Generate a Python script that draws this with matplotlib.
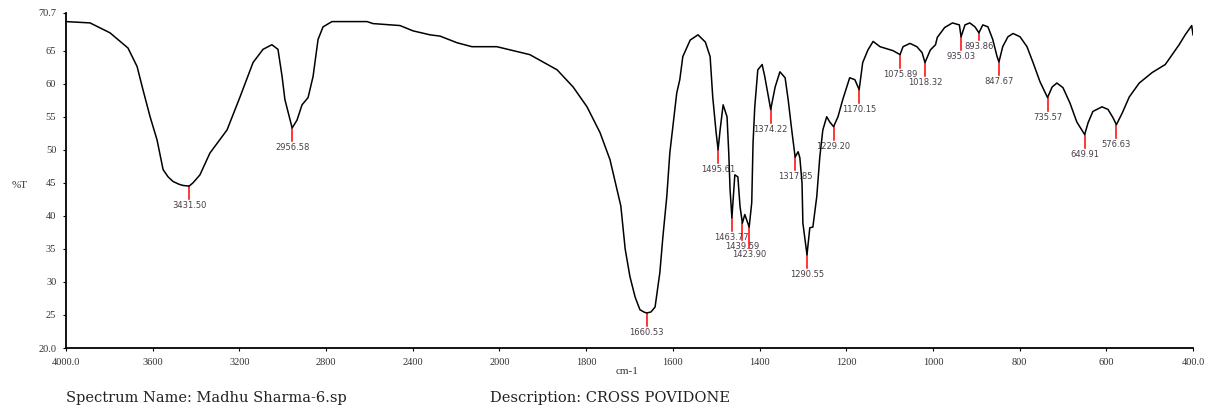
import numpy as np
import matplotlib.pyplot as plt

plt.rcParams['font.family'] = ['Liberation Serif', 'DejaVu Serif']

# IR spectrum, cm-1 vs %T
wavenumber = [
    4000, 3889, 3797, 3714, 3672, 3645, 3612, 3580, 3552, 3529, 3506, 3480, 3460,
    3431.5, 3414, 3382, 3336, 3257, 3197, 3137, 3091, 3050, 3022, 3003, 2990,
    2956.58, 2934, 2911, 2883, 2860, 2837, 2814, 2773, 2611, 2584, 2459, 2399,
    2321, 2274, 2196, 2127, 2012, 1930, 1867, 1830, 1798, 1768, 1745, 1727,
    1720, 1710, 1699, 1687, 1676, 1667, 1660.53, 1650.5, 1641, 1630, 1623, 1614,
    1607, 1591, 1584, 1577, 1560, 1542, 1525, 1514, 1508, 1500, 1495.61, 1491,
    1484, 1475, 1471, 1468, 1463.77, 1457, 1450, 1445, 1439.59, 1434, 1423.9,
    1418, 1415, 1411, 1404, 1394, 1388, 1374.22, 1364, 1353, 1341, 1334, 1325,
    1317.85, 1311, 1307, 1302, 1300, 1290.55, 1284, 1277, 1268, 1261, 1254,
    1245, 1238, 1229.2, 1219, 1208, 1192, 1180, 1170.15, 1162, 1150, 1138, 1122,
    1092, 1075.89, 1069, 1053, 1037, 1025, 1018.32, 1006, 994, 990, 973, 955,
    939, 935.03, 926, 915, 903, 893.86, 885, 873, 862, 852, 847.67, 839, 827,
    815, 799, 783, 769, 753, 735.57, 725, 714, 700, 684, 668, 649.91, 642, 631,
    610, 596, 585, 576.63, 563, 547, 524, 494, 464, 432, 418, 403, 400,
]
transmittance = [
    69.4, 69.2, 67.7, 65.4, 62.6, 59.1, 55.0, 51.5, 47.0, 45.9, 45.2, 44.8, 44.6,
    44.5, 45.0, 46.2, 49.5, 53.0, 58.0, 63.2, 65.2, 65.9, 65.2, 61.1, 57.6,
    53.3, 54.5, 56.8, 57.9, 61.1, 66.7, 68.6, 69.4, 69.4, 69.1, 68.8, 68.0,
    67.4, 67.2, 66.2, 65.6, 65.6, 64.4, 62.1, 59.5, 56.5, 52.6, 48.5, 43.5,
    41.5, 35.0, 30.8, 27.7, 25.8, 25.45, 25.3, 25.45, 26.2, 31.4, 36.8, 42.9,
    49.5, 58.6, 60.6, 64.1, 66.6, 67.4, 66.3, 64.1, 58.0, 52.5, 50.0, 53.0,
    56.8, 55.0, 49.5, 44.0, 39.7, 46.2, 45.9, 41.4, 38.9, 40.2, 38.3,
    42.0, 51.0, 56.5, 62.1, 62.9, 61.1, 56.1, 59.5, 61.8, 60.9, 57.6, 52.6,
    48.9, 49.7, 48.8, 45.0, 38.9, 34.1, 38.2, 38.3, 42.9, 48.9, 53.0,
    55.0, 54.2, 53.5, 55.0, 57.6, 60.9, 60.6, 59.1, 63.2, 65.1, 66.4, 65.6,
    65.0, 64.4, 65.6, 66.1, 65.6, 64.7, 63.2, 65.1, 65.9, 67.0, 68.5, 69.2,
    68.9, 67.1, 68.9, 69.2, 68.6, 67.7, 68.9, 68.6, 66.7, 64.1, 63.3, 65.6, 67.1,
    67.6, 67.1, 65.6, 63.2, 60.3, 57.9, 59.5, 60.1, 59.4, 57.1, 54.2, 52.3, 54.1, 55.8,
    56.5, 56.1, 54.9, 53.8, 55.6, 58.0, 60.1, 61.7, 62.9, 65.9, 67.4, 68.8, 67.4,
]

peak_wn = [3431.50, 2956.58, 1660.53, 1495.61, 1463.77, 1439.59, 1423.90,
           1374.22, 1317.85, 1290.55, 1229.20, 1170.15, 1075.89, 1018.32,
           935.03, 893.86, 847.67, 735.57, 649.91, 576.63]
peak_t = [44.5, 53.3, 25.3, 50.0, 39.7, 38.9, 38.3,
          56.1, 48.9, 34.1, 53.5, 59.1, 64.4, 63.2,
          67.1, 67.7, 63.3, 57.9, 52.3, 53.8]

x_ticks = [4000, 3600, 3200, 2800, 2400, 2000, 1800, 1600, 1400, 1200, 1000, 800, 600, 400]
x_ticklabels = ['4000.0', '3600', '3200', '2800', '2400', '2000', '1800', '1600',
                '1400', '1200', '1000', '800', '600', '400.0']
y_ticks = [20, 25, 30, 35, 40, 45, 50, 55, 60, 65, 70.7]
y_ticklabels = ['20.0', '25', '30', '35', '40', '45', '50', '55', '60', '65', '70.7']


# axis is expanded 2x below 2000 cm-1
def fwd(x):
    x = np.asarray(x, dtype=float)
    return np.where(x >= 2000, x / 2.0, x - 1000.0)


def inv(u):
    u = np.asarray(u, dtype=float)
    return np.where(u >= 1000, u * 2.0, u + 1000.0)


W, H = 1217, 409
fig = plt.figure(figsize=(W / 100, H / 100), dpi=100)
ax = fig.add_axes([66 / W, 1 - 348 / H, (1193 - 66) / W, (348 - 13) / H])
ax.set_xscale('function', functions=(fwd, inv))
ax.set_xlim(4000, 400)
ax.set_ylim(20, 70.7)

# peak markers; labels of close neighbours are moved so they don't collide
prev_wn, prev_bottom = None, None
for wn, t in zip(peak_wn, peak_t):
    bottom = t - 2.0
    if prev_wn is not None and prev_wn - wn < 45 and abs(bottom - prev_bottom) < 1.3:
        if bottom >= prev_bottom:
            bottom = prev_bottom + 1.5
        else:
            bottom = prev_bottom - 1.3
    ax.plot([wn, wn], [t, bottom], color='red', lw=1.1, zorder=2)
    ax.text(wn, bottom - 0.3, f'{wn:.2f}', ha='center', va='top',
            fontsize=6, color='#4a3f4a', family='DejaVu Sans')
    prev_wn, prev_bottom = wn, bottom

ax.plot(wavenumber, transmittance, color='black', lw=1.1, zorder=3)

ax.set_xticks(x_ticks)
ax.set_xticklabels(x_ticklabels)
ax.set_yticks(y_ticks)
ax.set_yticklabels(y_ticklabels)
ax.xaxis.set_minor_locator(plt.NullLocator())
ax.tick_params(length=2, width=0.8, pad=5, labelsize=7.5, labelcolor='#333333')

for side in ['top', 'right']:
    ax.spines[side].set_visible(False)
for side in ['left', 'bottom']:
    ax.spines[side].set_linewidth(1.3)

fig.text(20 / W, 1 - 186 / H, '%T', ha='center', va='center', fontsize=8, color='#333333')
fig.text(627 / W, 1 - 372 / H, 'cm-1', ha='center', va='center', fontsize=8, color='#333333')
fig.text(66 / W, 1 - 398 / H, 'Spectrum Name: Madhu Sharma-6.sp', ha='left', va='center',
         fontsize=10.5, color='#222222', family='DejaVu Serif')
fig.text(490 / W, 1 - 398 / H, 'Description: CROSS POVIDONE', ha='left', va='center',
         fontsize=10.5, color='#222222', family='DejaVu Serif')

fig.savefig('out.png', dpi=100)
